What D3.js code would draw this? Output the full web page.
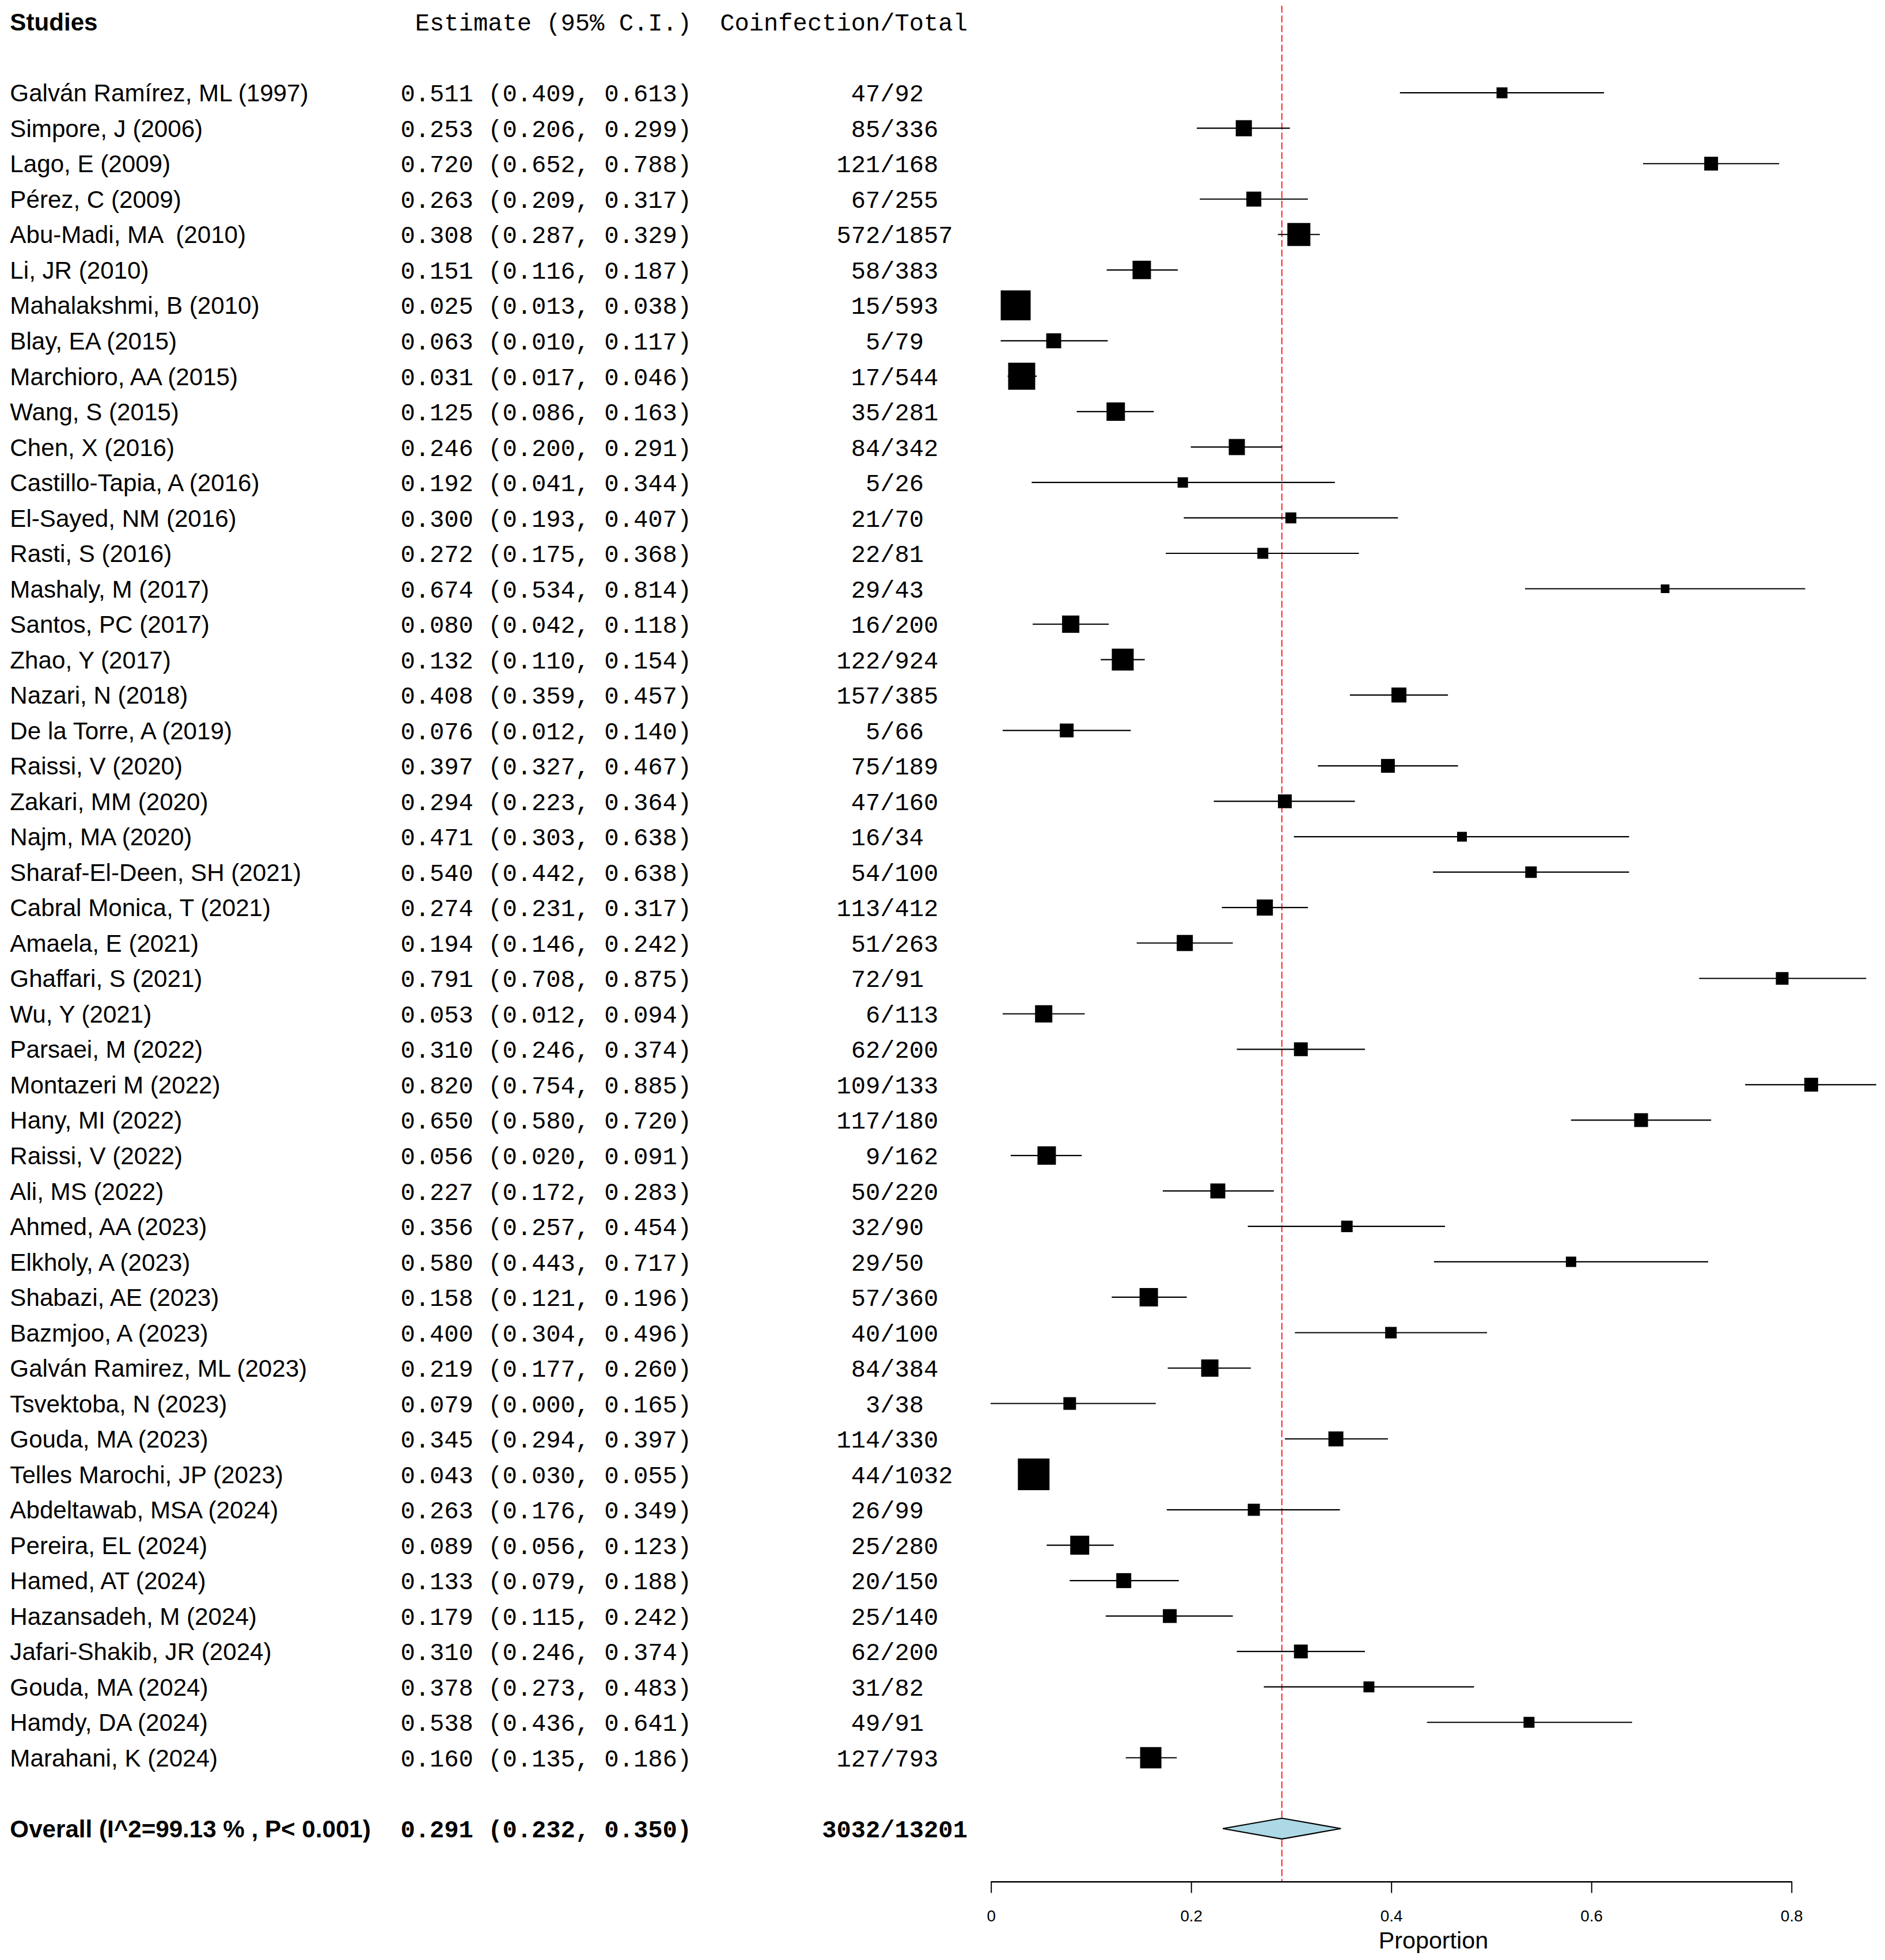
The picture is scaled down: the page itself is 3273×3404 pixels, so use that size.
<!DOCTYPE html>
<html>
<head>
<meta charset="utf-8">
<script src="https://cdn.jsdelivr.net/npm/d3@7/dist/d3.min.js"></script>
<style>
  body { margin: 0; background: #fff; }
  text { white-space: pre; }
</style>
</head>
<body>
<svg id="drawing_region"></svg>
<script>
// study labels
const studies = [
  "Galván Ramírez, ML (1997)", "Simpore, J (2006)", "Lago, E (2009)", "Pérez, C (2009)",
  "Abu-Madi, MA  (2010)", "Li, JR (2010)", "Mahalakshmi, B (2010)", "Blay, EA (2015)",
  "Marchioro, AA (2015)", "Wang, S (2015)", "Chen, X (2016)", "Castillo-Tapia, A (2016)",
  "El-Sayed, NM (2016)", "Rasti, S (2016)", "Mashaly, M (2017)", "Santos, PC (2017)",
  "Zhao, Y (2017)", "Nazari, N (2018)", "De la Torre, A (2019)", "Raissi, V (2020)",
  "Zakari, MM (2020)", "Najm, MA (2020)", "Sharaf-El-Deen, SH (2021)", "Cabral Monica, T (2021)",
  "Amaela, E (2021)", "Ghaffari, S (2021)", "Wu, Y (2021)", "Parsaei, M (2022)",
  "Montazeri M (2022)", "Hany, MI (2022)", "Raissi, V (2022)", "Ali, MS (2022)",
  "Ahmed, AA (2023)", "Elkholy, A (2023)", "Shabazi, AE (2023)", "Bazmjoo, A (2023)",
  "Galván Ramirez, ML (2023)", "Tsvektoba, N (2023)", "Gouda, MA (2023)", "Telles Marochi, JP (2023)",
  "Abdeltawab, MSA (2024)", "Pereira, EL (2024)", "Hamed, AT (2024)", "Hazansadeh, M (2024)",
  "Jafari-Shakib, JR (2024)", "Gouda, MA (2024)", "Hamdy, DA (2024)", "Marahani, K (2024)"
];

const estimate = [
  0.511, 0.253, 0.720, 0.263, 0.308, 0.151, 0.025, 0.063, 0.031, 0.125, 0.246, 0.192,
  0.300, 0.272, 0.674, 0.080, 0.132, 0.408, 0.076, 0.397, 0.294, 0.471, 0.540, 0.274,
  0.194, 0.791, 0.053, 0.310, 0.820, 0.650, 0.056, 0.227, 0.356, 0.580, 0.158, 0.400,
  0.219, 0.079, 0.345, 0.043, 0.263, 0.089, 0.133, 0.179, 0.310, 0.378, 0.538, 0.160
];
const lower = [
  0.409, 0.206, 0.652, 0.209, 0.287, 0.116, 0.013, 0.010, 0.017, 0.086, 0.200, 0.041,
  0.193, 0.175, 0.534, 0.042, 0.110, 0.359, 0.012, 0.327, 0.223, 0.303, 0.442, 0.231,
  0.146, 0.708, 0.012, 0.246, 0.754, 0.580, 0.020, 0.172, 0.257, 0.443, 0.121, 0.304,
  0.177, 0.000, 0.294, 0.030, 0.176, 0.056, 0.079, 0.115, 0.246, 0.273, 0.436, 0.135
];
const upper = [
  0.613, 0.299, 0.788, 0.317, 0.329, 0.187, 0.038, 0.117, 0.046, 0.163, 0.291, 0.344,
  0.407, 0.368, 0.814, 0.118, 0.154, 0.457, 0.140, 0.467, 0.364, 0.638, 0.638, 0.317,
  0.242, 0.875, 0.094, 0.374, 0.885, 0.720, 0.091, 0.283, 0.454, 0.717, 0.196, 0.496,
  0.260, 0.165, 0.397, 0.055, 0.349, 0.123, 0.188, 0.242, 0.374, 0.483, 0.641, 0.186
];
const events = [
  47, 85, 121, 67, 572, 58, 15, 5, 17, 35, 84, 5, 21, 22, 29, 16, 122, 157, 5, 75, 47, 16, 54, 113,
  51, 72, 6, 62, 109, 117, 9, 50, 32, 29, 57, 40, 84, 3, 114, 44, 26, 25, 20, 25, 62, 31, 49, 127
];
const totals = [
  92, 336, 168, 255, 1857, 383, 593, 79, 544, 281, 342, 26, 70, 81, 43, 200, 924, 385, 66, 189, 160, 34, 100, 412,
  263, 91, 113, 200, 133, 180, 162, 220, 90, 50, 360, 100, 384, 38, 330, 1032, 99, 280, 150, 140, 200, 82, 91, 793
];
// relative box weights, estimated from the square sizes in the picture
const boxWeight = [
  1.9, 2.8, 2.4, 2.6, 4.0, 3.2, 5.2, 2.6, 4.7, 3.2, 2.8, 1.8, 1.9, 1.9, 1.5, 3.0,
  3.8, 2.6, 2.4, 2.4, 2.4, 1.7, 2.0, 2.8, 2.8, 2.2, 3.0, 2.4, 2.4, 2.4, 3.2, 2.6,
  2.0, 1.8, 3.2, 2.0, 3.0, 2.2, 2.6, 5.5, 2.1, 3.3, 2.6, 2.4, 2.4, 1.9, 1.9, 3.7
];

const overallLabel = "Overall (I^2=99.13 % , P< 0.001)";
const overallCI = [0.291, 0.232, 0.350];   // estimate, lower, upper
const overallCounts = [3032, 13201];
const xTicks = [0, 0.2, 0.4, 0.6, 0.8];
const headers = ["Studies", "Estimate (95% C.I.)", "Coinfection/Total"];

// layout (drawn in a 1507 x 1567 frame, scaled up to the page)
const W = 1507, H = 1567;
const fontSize = 19.4;
const sans = "'Liberation Sans', Arial, sans-serif";
const mono = "'Liberation Mono', 'Courier New', monospace";
const colName = 8, colEst = 553, colCount = 773.5;
const axisY = 1504;

const svg = d3.select("#drawing_region")
  .attr("width", 3273)
  .attr("height", 3404)
  .attr("viewBox", "0 0 " + W + " " + H)
  .attr("preserveAspectRatio", "none");

const x = d3.scaleLinear().domain([0, 0.8]).range([792, 1432]);
const row = d3.scaleLinear().domain([0, studies.length - 1]).range([74.2, 1405.3]);
const boxSize = d3.scaleLinear().domain([0, 5.5]).range([0, 25.3]);

const nb = "\u00A0";
const fmt = v => v.toFixed(3);
const ciText = (e, l, u) => fmt(e) + " (" + fmt(l) + ", " + fmt(u) + ")";
const countText = (e, t) => String(e).padStart(4, nb) + "/" + String(t).padEnd(5, nb);
const baseline = i => row(i) + 0.36 * fontSize;

const data = studies.map((s, i) => ({
  name: s, est: estimate[i], lo: lower[i], hi: upper[i],
  ev: events[i], n: totals[i], w: boxWeight[i], i: i
}));

// reference line at the pooled estimate
svg.append("line")
  .attr("x1", x(overallCI[0])).attr("x2", x(overallCI[0]))
  .attr("y1", 4.6).attr("y2", axisY)
  .attr("stroke", "#ff0000")
  .attr("stroke-width", 0.8)
  .attr("stroke-dasharray", "5.5,2.3");

// header row
const headY = baseline(-2);
svg.append("text").attr("x", colName).attr("y", headY)
  .attr("font-family", sans).attr("font-weight", "bold").attr("font-size", fontSize)
  .text(headers[0]);
svg.append("text").attr("x", colEst).attr("y", headY).attr("text-anchor", "end")
  .attr("font-family", mono).attr("font-size", fontSize)
  .text(headers[1]);
svg.append("text").attr("x", colCount).attr("y", headY).attr("text-anchor", "end")
  .attr("font-family", mono).attr("font-size", fontSize)
  .text(headers[2]);

// study rows
const rows = svg.append("g").selectAll("g").data(data).join("g");

rows.append("text")
  .attr("x", colName).attr("y", d => baseline(d.i))
  .attr("font-family", sans).attr("font-size", fontSize)
  .text(d => d.name);

rows.append("text")
  .attr("x", colEst).attr("y", d => baseline(d.i)).attr("text-anchor", "end")
  .attr("font-family", mono).attr("font-size", fontSize)
  .text(d => ciText(d.est, d.lo, d.hi));

rows.append("text")
  .attr("x", colCount).attr("y", d => baseline(d.i)).attr("text-anchor", "end")
  .attr("font-family", mono).attr("font-size", fontSize)
  .text(d => countText(d.ev, d.n));

rows.append("line")
  .attr("x1", d => x(d.lo)).attr("x2", d => x(d.hi))
  .attr("y1", d => row(d.i)).attr("y2", d => row(d.i))
  .attr("stroke", "#000").attr("stroke-width", 1);

rows.append("rect")
  .attr("x", d => x(d.est) - boxSize(d.w) / 2)
  .attr("y", d => row(d.i) - boxSize(d.w) / 2)
  .attr("width", d => boxSize(d.w))
  .attr("height", d => boxSize(d.w))
  .attr("fill", "#000");

// overall row
const oi = studies.length + 1;
svg.append("text").attr("x", colName).attr("y", baseline(oi))
  .attr("font-family", sans).attr("font-weight", "bold").attr("font-size", fontSize)
  .text(overallLabel);
svg.append("text").attr("x", colEst).attr("y", baseline(oi)).attr("text-anchor", "end")
  .attr("font-family", mono).attr("font-weight", "bold").attr("font-size", fontSize)
  .text(ciText(overallCI[0], overallCI[1], overallCI[2]));
svg.append("text").attr("x", colCount).attr("y", baseline(oi)).attr("text-anchor", "end")
  .attr("font-family", mono).attr("font-weight", "bold").attr("font-size", fontSize)
  .text(countText(overallCounts[0], overallCounts[1]));

const dy = 8.3, oy = row(oi);
svg.append("path")
  .attr("d", d3.line()([
    [x(overallCI[1]), oy], [x(overallCI[0]), oy - dy],
    [x(overallCI[2]), oy], [x(overallCI[0]), oy + dy]
  ]) + "Z")
  .attr("fill", "#add8e6")
  .attr("stroke", "#000")
  .attr("stroke-width", 1);

// x axis
const axis = svg.append("g")
  .attr("transform", "translate(0," + axisY + ")")
  .call(d3.axisBottom(x).tickValues(xTicks).tickSize(9.4).tickSizeOuter(0)
    .tickPadding(13.8).tickFormat(d => d === 0 ? "0" : String(d)));
axis.select(".domain").attr("stroke-width", 1.1);
axis.selectAll(".tick line").attr("stroke-width", 0.9);
axis.selectAll(".tick text")
  .attr("font-family", sans).attr("font-size", 12.8).attr("fill", "#000");

svg.append("text")
  .attr("x", (x(0) + x(d3.max(upper))) / 2)
  .attr("y", 1557.6)
  .attr("text-anchor", "middle")
  .attr("font-family", sans).attr("font-size", 19)
  .text("Proportion");
</script>
</body>
</html>
